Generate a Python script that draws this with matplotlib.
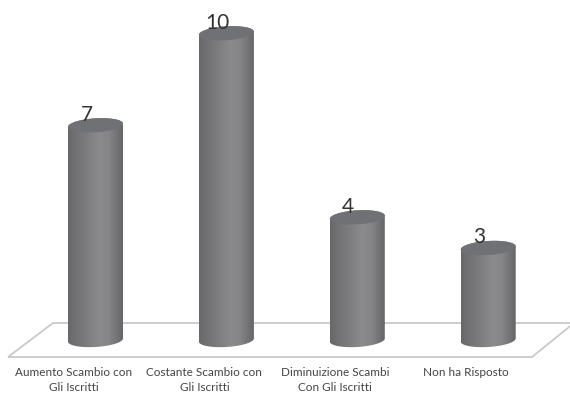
import matplotlib
matplotlib.use("Agg")
import matplotlib.pyplot as plt
import numpy as np
from matplotlib.patches import Polygon

categorie = ["Aumento Scambio con\nGli Iscritti", "Costante Scambio con\nGli Iscritti",
             "Diminuizione Scambi\nCon Gli Iscritti", "Non ha Risposto"]
valori = [7, 10, 4, 3]

plt.rcParams['font.family'] = ['Lato', 'DejaVu Sans']

W, H = 570, 393
PX_X = 130.9   # pixels per category
PX_Y = 30.67   # pixels per unit
X0, Y0 = 95.5, 340

fig = plt.figure(figsize=(W / 100, H / 100), dpi=100)
ax = fig.add_axes([0, 0, 1, 1])
ax.axis('off')

def fx(px):
    return (px - X0) / PX_X

def fy(py):
    return (Y0 - py) / PX_Y

# floor of the 3D chart
pavimento = [(fx(8), fy(357)), (fx(532), fy(357)), (fx(574), fy(323)), (fx(53), fy(323))]
ax.add_patch(Polygon(pavimento, closed=True, fill=False, edgecolor='#c9c9c9', lw=1.3, zorder=1))

semi_larg = 27.5 / PX_X
semi_alt = 7.0 / PX_Y
inclina = 1.6 / PX_Y   # the ellipses lean up to the right

# horizontal shading of the cylinders
stops = [0.0, 0.12, 0.58, 0.75, 1.0]
toni = [0x68, 0x70, 0x8b, 0x85, 0x66]
sfumatura = np.interp(np.linspace(0, 1, 128), stops, toni)[None, :] / 255
blu = np.clip(sfumatura + 0.012, 0, 1)

def ellisse(cx, cy, t):
    return cx + semi_larg * np.cos(t), cy + semi_alt * np.sin(t) + inclina * np.cos(t)

for i, v in enumerate(valori):
    xb, yb = ellisse(i, 0, np.linspace(np.pi, 2 * np.pi, 60))
    xt, yt = ellisse(i, v, np.linspace(0, np.pi, 60))
    sagoma = Polygon(np.column_stack([np.r_[xb, xt], np.r_[yb, yt]]), closed=True,
                     facecolor='none', edgecolor='none', zorder=2)
    ax.add_patch(sagoma)
    im = ax.imshow(np.dstack([sfumatura, sfumatura, blu]),
                   extent=(i - semi_larg, i + semi_larg, -semi_alt * 1.3, v + semi_alt * 1.3),
                   aspect='auto', zorder=2)
    im.set_clip_path(sagoma)
    xe, ye = ellisse(i, v, np.linspace(0, 2 * np.pi, 120))
    ax.fill(xe, ye, color='#707174', lw=0, zorder=3)
    ax.text(i - 9 / PX_X, v + 0.5 / PX_Y, str(v), ha='center', va='bottom',
            fontsize=15, color='#333333', zorder=4)

# limits are set after imshow, which would otherwise reset them
ax.set_xlim(-X0 / PX_X, (W - X0) / PX_X)
ax.set_ylim((Y0 - H) / PX_Y, Y0 / PX_Y)

for i, nome in enumerate(categorie):
    ax.text(i - 22 / PX_X, fy(367.5), nome, ha='center', va='top',
            fontsize=8.5, color='#444444', linespacing=1.4)

fig.savefig("out.png", dpi=100)
plt.close(fig)
